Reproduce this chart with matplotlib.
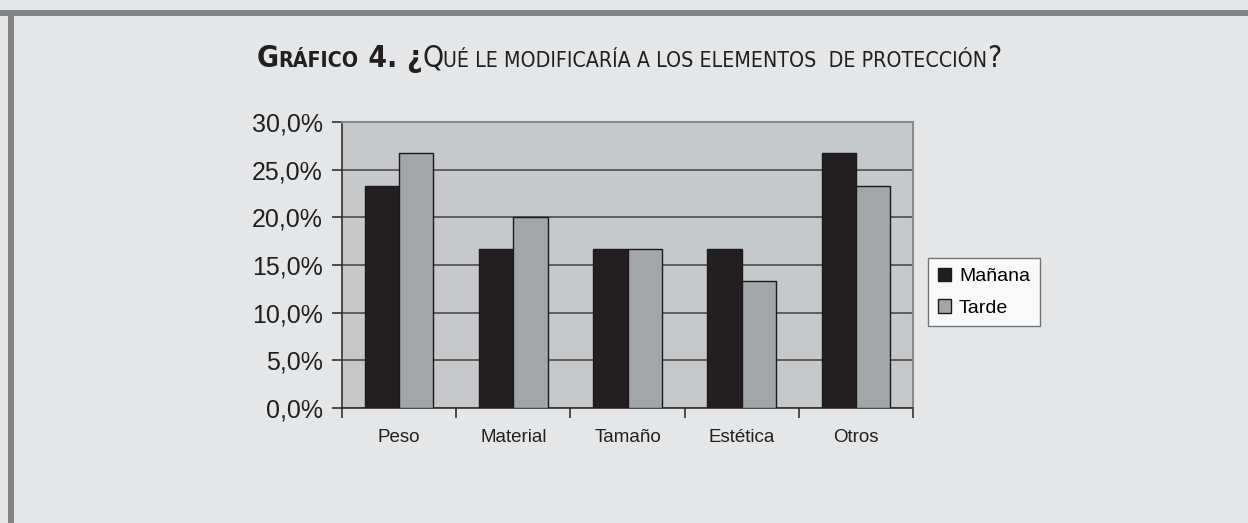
import numpy as np
import matplotlib.pyplot as plt
from matplotlib.patches import Rectangle
from matplotlib.ticker import FuncFormatter

categorias = ["Peso", "Material", "Tamaño", "Estética", "Otros"]
manana = [23.3, 16.7, 16.7, 16.7, 26.7]
tarde = [26.7, 20.0, 16.7, 13.3, 23.3]
series = ["Mañana", "Tarde"]
yticks = [0, 5, 10, 15, 20, 25, 30]

BG = "#e5e6e8"
PLOT_BG = "#c7c8ca"
NEGRO = "#231f20"
GRIS = "#a3a6a8"

plt.rcParams['font.family'] = ['Liberation Sans', 'DejaVu Sans']

fig = plt.figure(figsize=(12.48, 5.23), dpi=100)
fig.patch.set_facecolor(BG)

# marco gris de arriba y de la izquierda
fig.patches.append(Rectangle((0, 507 / 523), 1, 6 / 523, transform=fig.transFigure,
                             facecolor="#848484", edgecolor="none"))
fig.patches.append(Rectangle((8 / 1248, 0), 6 / 1248, 513 / 523, transform=fig.transFigure,
                             facecolor="#848484", edgecolor="none"))

ax = fig.add_axes([342 / 1248, 1 - 408 / 523, 571 / 1248, 286 / 523])
ax.set_facecolor(PLOT_BG)

x = np.arange(len(categorias))
w = 0.3
ax.bar(x - w / 2, manana, w, color=NEGRO, edgecolor="#1a1a1a", linewidth=1, label=series[0], zorder=3)
ax.bar(x + w / 2, tarde, w, color=GRIS, edgecolor="#1a1a1a", linewidth=1, label=series[1], zorder=3)

ax.set_xlim(-0.5, len(categorias) - 0.5)
ax.set_ylim(0, 30)
ax.set_yticks(yticks)
ax.yaxis.set_major_formatter(FuncFormatter(lambda v, p: f"{v:.1f}%".replace(".", ",")))
ax.grid(axis="y", color="#555555", linewidth=1.3, zorder=1)
ax.tick_params(axis="y", labelsize=18, length=7, width=1.2, color="#333333", labelcolor="#231f20", pad=7)

ax.set_xticks(x)
ax.set_xticklabels(categorias, fontsize=13.5, color="#231f20")
ax.set_xticks(np.arange(len(categorias) + 1) - 0.5, minor=True)
ax.tick_params(axis="x", which="major", length=0, pad=15)
ax.tick_params(axis="x", which="minor", length=7, width=1.2, color="#333333")

for s in ["top", "right"]:
    ax.spines[s].set_color("#8a8a8a")
    ax.spines[s].set_linewidth(1.5)
for s in ["left", "bottom"]:
    ax.spines[s].set_color("#333333")
    ax.spines[s].set_linewidth(1.2)

leg = ax.legend(loc="center left", bbox_to_anchor=(1.026, 0.405), fontsize=14, frameon=True,
                fancybox=False, edgecolor="#555555", handlelength=0.7, handleheight=0.7,
                handletextpad=0.4, borderpad=0.5, labelspacing=0.7, borderaxespad=0)
leg.get_frame().set_facecolor("white")
leg.get_frame().set_linewidth(1)

# título en versalitas simuladas
piezas = [("G", 21.5, "heavy"), ("RÁFICO", 15.3, "heavy"), (" 4. ", 21.5, "heavy"), ("¿", 21.5, "heavy"),
          ("Q", 21.5, "normal"), ("UÉ LE MODIFICARÍA A LOS ELEMENTOS  DE PROTECCIÓN", 15.3, "normal"),
          ("?", 21.5, "normal")]
fig.canvas.draw()
r = fig.canvas.get_renderer()
textos = []
for t, sz, wt in piezas:
    tx = fig.text(0, 1 - 67 / 523, t, fontsize=sz, fontweight=wt, family="DejaVu Sans",
                  fontstretch="condensed", color="#231f20", va="baseline", ha="left")
    textos.append(tx)
anchos = [tx.get_window_extent(r).width for tx in textos]
total = sum(anchos)
x0 = 629 - total / 2
for tx, a in zip(textos, anchos):
    tx.set_x(x0 / 1248)
    x0 += a

fig.savefig("out.png", dpi=100, facecolor=BG)
